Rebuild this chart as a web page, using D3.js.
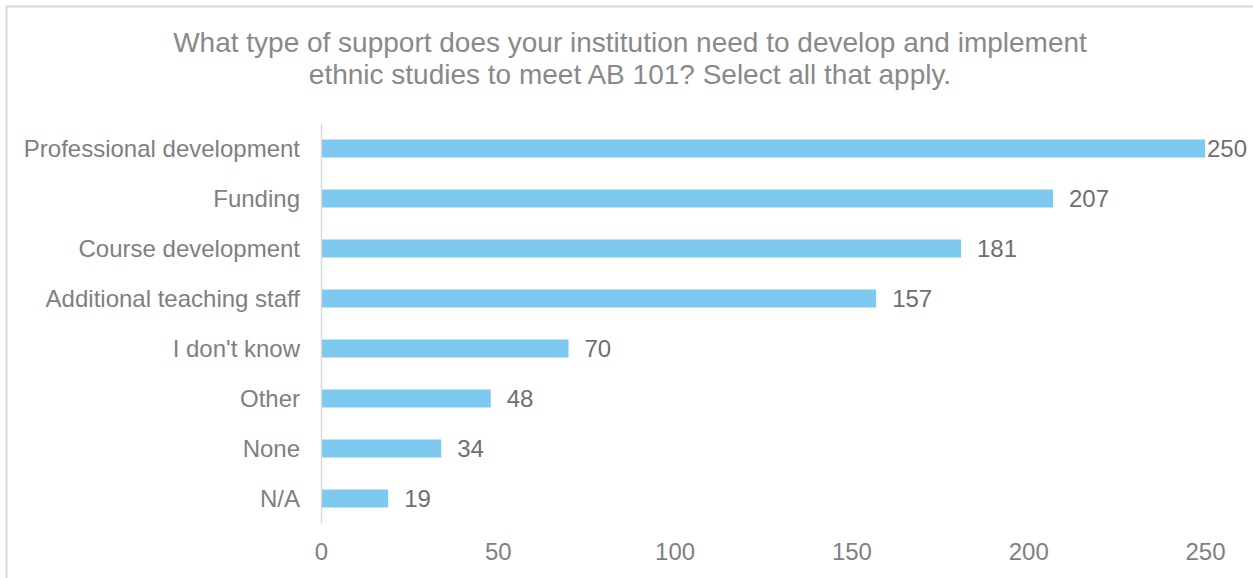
<!DOCTYPE html>
<html>
<head>
<meta charset="utf-8">
<script src="https://cdn.jsdelivr.net/npm/d3@7"></script>
<style>
  body { margin: 0; background: #fff; }
  svg { display: block; font-family: Arial, "Liberation Sans", sans-serif; }
</style>
</head>
<body>
<script>
// chart data
var categories = ["Professional development", "Funding", "Course development",
                  "Additional teaching staff", "I don't know", "Other", "None", "N/A"];
var counts = [250, 207, 181, 157, 70, 48, 34, 19];
var tickValues = [0, 50, 100, 150, 200, 250];
var titleLines = ["What type of support does your institution need to develop and implement",
                  "ethnic studies to meet AB 101? Select all that apply."];

var W = 1253, H = 578;

var svg = d3.select("body").append("svg")
    .attr("width", W)
    .attr("height", H);

// outer frame (only top and left visible in the picture)
svg.append("rect")
    .attr("x", 6.5)
    .attr("y", 6.5)
    .attr("width", W + 20)
    .attr("height", H + 20)
    .attr("fill", "none")
    .attr("stroke", "#d9d9d9")
    .attr("stroke-width", 2);

// title
svg.append("text")
    .attr("x", 630)
    .attr("y", 52)
    .attr("text-anchor", "middle")
    .attr("font-size", 28)
    .attr("fill", "#898989")
    .selectAll("tspan").data(titleLines).enter()
    .append("tspan")
    .attr("x", 630)
    .attr("dy", function(d, i){ return i == 0 ? 0 : 32; })
    .text(function(d){ return d; });

// scales
var x = d3.scaleLinear().domain([0, 250]).range([321, 1205]);
var y = d3.scaleBand().domain(categories).range([123.5, 523.5]).paddingInner(0.64).paddingOuter(0.32);

// bars
var rows = categories.map(function(c, i){ return {cat: c, val: counts[i]}; });

svg.selectAll(".bar").data(rows).enter()
    .append("rect")
    .attr("class", "bar")
    .attr("x", x(0))
    .attr("y", function(d){ return y(d.cat); })
    .attr("width", function(d){ return x(d.val) - x(0); })
    .attr("height", y.bandwidth())
    .attr("fill", "#7dc9ef");

// vertical axis line
svg.append("line")
    .attr("x1", x(0) + 0.5).attr("x2", x(0) + 0.5)
    .attr("y1", 123.5).attr("y2", 523.5)
    .attr("stroke", "#d9d9d9")
    .attr("stroke-width", 1.5);

// category labels
svg.selectAll(".cat").data(rows).enter()
    .append("text")
    .attr("class", "cat")
    .attr("x", 300)
    .attr("y", function(d){ return y(d.cat) + y.bandwidth() / 2; })
    .attr("dy", "0.35em")
    .attr("text-anchor", "end")
    .attr("font-size", 24)
    .attr("fill", "#7f7f7f")
    .text(function(d){ return d.cat; });

// value labels, kept inside the plot at the right end
svg.selectAll(".val").data(rows).enter()
    .append("text")
    .attr("class", "val")
    .attr("x", function(d){ return Math.min(x(d.val) + 16, x(250) + 2); })
    .attr("y", function(d){ return y(d.cat) + y.bandwidth() / 2; })
    .attr("dy", "0.35em")
    .attr("font-size", 24)
    .attr("fill", "#6f6f6f")
    .text(function(d){ return d.val; });

// x axis tick labels (no axis line)
var xAxis = svg.append("g")
    .attr("transform", "translate(0,543)")
    .call(d3.axisBottom(x).tickValues(tickValues).tickSize(0).tickPadding(0));
xAxis.select(".domain").remove();
xAxis.selectAll("text")
    .attr("font-size", 24)
    .attr("font-family", "Arial, 'Liberation Sans', sans-serif")
    .attr("fill", "#7f7f7f")
    .attr("dy", "0.71em");
</script>
</body>
</html>
